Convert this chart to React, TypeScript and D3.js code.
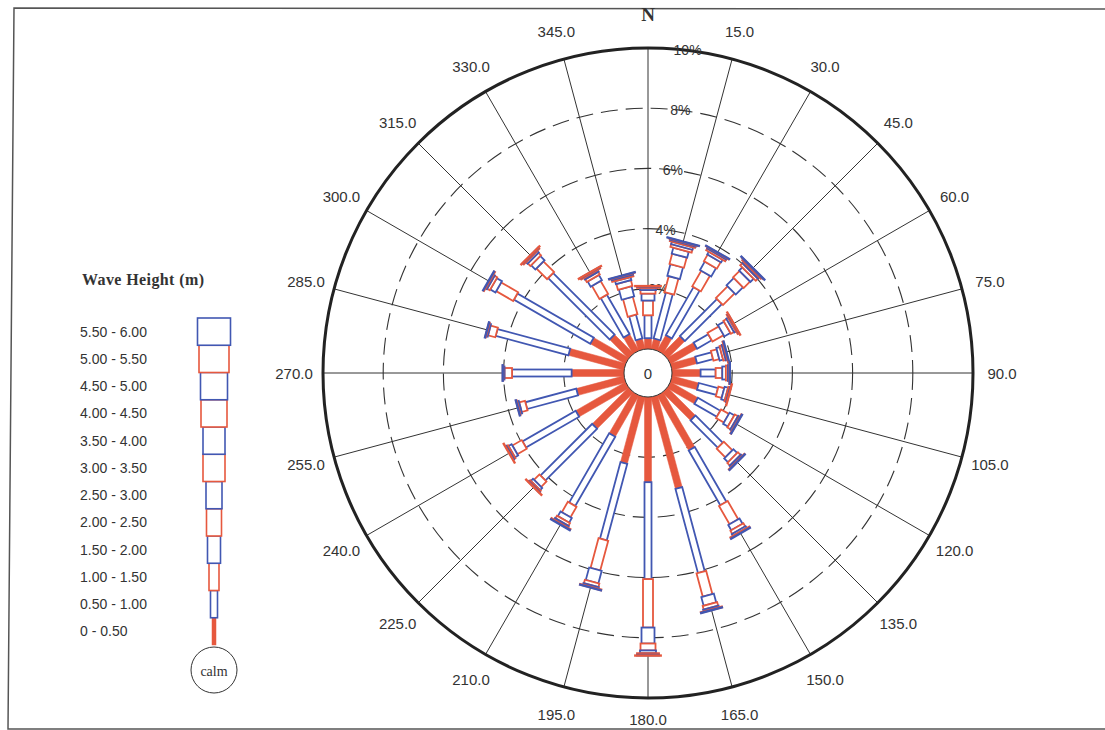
import React from 'react';
import * as d3 from 'd3';

// compass bearings of the rose arms
const directions = [0, 15, 30, 45, 60, 75, 90, 105, 120, 135, 150, 165, 180, 195, 210, 225, 240, 255, 270, 285, 300, 315, 330, 345];

// wave height classes (legend, bottom to top)
const heightClasses = ['0 - 0.50', '0.50 - 1.00', '1.00 - 1.50', '1.50 - 2.00', '2.00 - 2.50', '2.50 - 3.00', '3.00 - 3.50', '3.50 - 4.00', '4.00 - 4.50', '4.50 - 5.00', '5.00 - 5.50', '5.50 - 6.00'];

// frequency (%) per direction, one value per height class
const freqByDirection = [
  [0.36, 0.76, 0.49, 0.23, 0.12, 0.07, 0.04, 0.02, 0.01, 0, 0, 0],
  [0.36, 1.58, 0.55, 0.40, 0.35, 0.20, 0.10, 0.08, 0.05, 0.03, 0.02, 0.01],
  [0.59, 1.84, 0.60, 0.32, 0.25, 0.10, 0.07, 0.04, 0.02, 0.01, 0, 0],
  [0.82, 1.74, 0.55, 0.34, 0.30, 0.15, 0.10, 0.06, 0.04, 0.02, 0.01, 0.01],
  [1.02, 0.56, 0.43, 0.23, 0.12, 0.07, 0.04, 0.02, 0.01, 0, 0, 0],
  [0.86, 0.55, 0.20, 0.12, 0.08, 0.05, 0.03, 0.02, 0, 0, 0, 0],
  [0.95, 0.50, 0.22, 0.12, 0.07, 0.04, 0.02, 0.01, 0, 0, 0, 0],
  [0.92, 0.66, 0.20, 0.12, 0.06, 0.03, 0.01, 0, 0, 0, 0, 0],
  [1.05, 0.86, 0.30, 0.18, 0.12, 0.06, 0.03, 0.01, 0, 0, 0, 0],
  [1.32, 1.28, 0.40, 0.18, 0.12, 0.06, 0.03, 0.01, 0, 0, 0, 0],
  [2.11, 2.10, 0.70, 0.20, 0.12, 0.07, 0.04, 0.02, 0, 0, 0, 0],
  [3.16, 2.89, 0.80, 0.30, 0.12, 0.06, 0.03, 0.01, 0, 0, 0, 0],
  [2.83, 3.22, 1.61, 0.53, 0.23, 0.09, 0.05, 0.03, 0.01, 0, 0, 0],
  [2.30, 2.63, 1.02, 0.43, 0.12, 0.05, 0.03, 0.01, 0, 0, 0, 0],
  [1.58, 2.66, 0.40, 0.18, 0.10, 0.06, 0.03, 0.02, 0, 0, 0, 0],
  [1.71, 2.43, 0.25, 0.10, 0.05, 0.03, 0.01, 0, 0, 0, 0, 0],
  [1.91, 2.04, 0.36, 0.12, 0.06, 0.03, 0.02, 0, 0, 0, 0, 0],
  [1.64, 1.75, 0.20, 0.06, 0.03, 0.01, 0, 0, 0, 0, 0, 0],
  [1.74, 1.98, 0.25, 0.04, 0.02, 0.01, 0, 0, 0, 0, 0, 0],
  [1.91, 2.50, 0.25, 0.05, 0.03, 0.01, 0, 0, 0, 0, 0, 0],
  [1.35, 2.93, 0.65, 0.20, 0.10, 0.05, 0.03, 0.02, 0, 0, 0, 0],
  [0.89, 2.89, 0.50, 0.20, 0.12, 0.07, 0.04, 0.02, 0.01, 0, 0, 0],
  [0.63, 1.51, 0.50, 0.20, 0.10, 0.06, 0.04, 0.02, 0.01, 0, 0, 0],
  [0.36, 0.82, 0.60, 0.35, 0.20, 0.10, 0.06, 0.04, 0.02, 0.01, 0, 0],
];

// percent rings
const ringTicks = [2, 4, 6, 8, 10];

const RED = '#e6583e';
const BLUE = '#4157b2';
const INK = '#333';

// layout
const cx = 648;
const cy = 373;
const innerR = 24;
const outerR = 325;

export default function App() {
  // radius for a percentage
  const r = d3.scaleLinear().domain([0, 10]).range([innerR, outerR]);
  // bar width grows with the height class
  const barWidth = d3.scaleOrdinal<number>()
    .domain(d3.range(heightClasses.length).map(String))
    .range([7, 7, 10, 13, 15, 16, 22, 22, 26, 27, 30, 33]);
  const classColor = (i: number) => (i % 2 === 0 ? RED : BLUE);

  // legend rows
  const legendY = d3.scaleBand<number>()
    .domain(d3.range(heightClasses.length).reverse())
    .range([318, 645]);

  const rad = (deg: number) => (deg * Math.PI) / 180;
  const labelR = 354;

  return (
    <svg width={1105} height={730} style={{ position: 'absolute', left: 0, top: 0, background: '#fff' }}>
      {/* page frame */}
      <path d="M1105,9 L14,8 L8,729 L1105,729" fill="none" stroke="#555" strokeWidth={1.5} />

      {/* radial lines */}
      <g stroke={INK} strokeWidth={1}>
        {directions.map((d) => (
          <line
            key={d}
            x1={cx}
            y1={cy}
            x2={cx + outerR * Math.sin(rad(d))}
            y2={cy - outerR * Math.cos(rad(d))}
          />
        ))}
      </g>

      {/* percent rings */}
      {ringTicks.map((t) => (
        <circle
          key={t}
          cx={cx}
          cy={cy}
          r={r(t)}
          fill="none"
          stroke={t === 10 ? '#222' : INK}
          strokeWidth={t === 10 ? 3 : 1.1}
          strokeDasharray={t === 10 ? undefined : '17 8'}
        />
      ))}
      {ringTicks.map((t) => (
        <text
          key={'l' + t}
          x={cx + r(t) * Math.sin(rad(7))}
          y={cy - r(t) * Math.cos(rad(7))}
          fontFamily="Liberation Sans"
          fontSize={14}
          fill={INK}
          textAnchor="middle"
          dominantBaseline="central"
        >
          {t}%
        </text>
      ))}

      {/* stacked arms */}
      {directions.map((d, di) => {
        const vals = freqByDirection[di];
        const cum = d3.cumsum(vals);
        return (
          <g key={d} transform={`translate(${cx},${cy}) rotate(${d})`}>
            {vals.map((v, ci) => {
              if (v <= 0) return null;
              const r0 = r(cum[ci] - v);
              const r1 = r(cum[ci]);
              const w = barWidth(String(ci));
              const col = classColor(ci);
              return (
                <rect
                  key={ci}
                  x={-w / 2}
                  y={-r1}
                  width={w}
                  height={Math.max(r1 - r0, 0.6)}
                  fill={ci === 0 ? col : '#fff'}
                  stroke={col}
                  strokeWidth={ci === 0 ? 0.5 : 1.8}
                />
              );
            })}
          </g>
        );
      })}

      {/* calm circle in the centre */}
      <circle cx={cx} cy={cy} r={innerR} fill="#fff" stroke={INK} strokeWidth={1} />
      <text x={cx} y={cy} fontFamily="Liberation Sans" fontSize={15} fill={INK} textAnchor="middle" dominantBaseline="central">
        0
      </text>

      {/* direction labels */}
      {directions.map((d) =>
        d === 0 ? (
          <text key={d} x={cx} y={21} fontFamily="Liberation Serif" fontWeight="bold" fontSize={19} fill={INK} textAnchor="middle">
            N
          </text>
        ) : (
          <text
            key={d}
            x={cx + labelR * Math.sin(rad(d))}
            y={Math.min(cy - labelR * Math.cos(rad(d)), 719)}
            fontFamily="Liberation Sans"
            fontSize={15}
            fill={INK}
            textAnchor="middle"
            dominantBaseline="central"
          >
            {d.toFixed(1)}
          </text>
        )
      )}

      {/* legend */}
      <text x={82} y={285} fontFamily="Liberation Serif" fontWeight="bold" fontSize={16} letterSpacing={0.4} fill={INK}>
        Wave Height (m)
      </text>
      {heightClasses.map((lab, ci) => {
        const y0 = legendY(ci)!;
        const h = legendY.bandwidth();
        const w = ci === 0 ? 4 : barWidth(String(ci));
        return (
          <g key={lab}>
            <text x={80} y={y0 + h / 2} fontFamily="Liberation Sans" fontSize={14} fill={INK} dominantBaseline="central">
              {lab}
            </text>
            <rect
              x={214 - w / 2}
              y={y0}
              width={w}
              height={h}
              fill={ci === 0 ? classColor(ci) : '#fff'}
              stroke={classColor(ci)}
              strokeWidth={ci === 0 ? 0.5 : 1.6}
            />
          </g>
        );
      })}
      <circle cx={214} cy={670} r={23} fill="#fff" stroke={INK} strokeWidth={1} />
      <text x={214} y={671} fontFamily="Liberation Serif" fontSize={14} fill={INK} textAnchor="middle" dominantBaseline="central">
        calm
      </text>
    </svg>
  );
}
